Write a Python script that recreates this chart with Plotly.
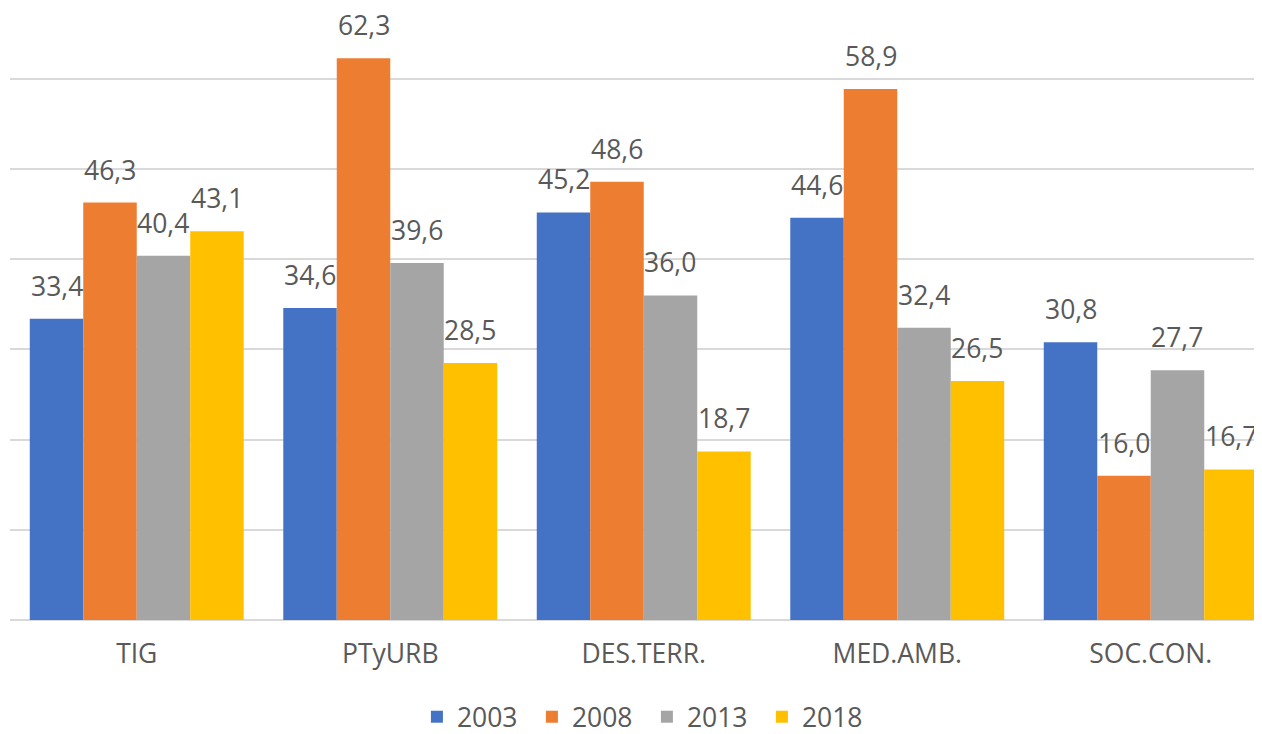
import plotly.graph_objects as go

categories = ["TIG", "PTyURB", "DES.TERR.", "MED.AMB.", "SOC.CON."]
series_names = ["2003", "2008", "2013", "2018"]
values_2003 = [33.4, 34.6, 45.2, 44.6, 30.8]
values_2008 = [46.3, 62.3, 48.6, 58.9, 16.0]
values_2013 = [40.4, 39.6, 36.0, 32.4, 27.7]
values_2018 = [43.1, 28.5, 18.7, 26.5, 16.7]
colors = ["#4472C4", "#ED7D31", "#A5A5A5", "#FFC000"]

all_values = [values_2003, values_2008, values_2013, values_2018]

# page body has an 8px margin, so the figure starts at (8, 8)
W, H = 1254, 726
ML, MR, MT, MB = 2, 0, 12, 114
plot_w = W - ML - MR
cat_px = 253.5
x_end = -0.5 + plot_w / cat_px
bargap = 0.156
bar_px = cat_px * (1 - bargap) / 4

FONT = "Open Sans"
TXT = "#595959"
FS = 26.5

fig = go.Figure()
for name, vals, col in zip(series_names, all_values, colors):
    fig.add_trace(go.Bar(name=name, x=categories, y=vals, marker_color=col,
                         marker_line_width=0))

for i, vals in enumerate(all_values):
    for c, v in zip(categories, vals):
        fig.add_annotation(x=c, y=v, text=f"{v:.1f}".replace(".", ","),
                           showarrow=False, yanchor="bottom",
                           xshift=(i - 1.5) * bar_px, yshift=13,
                           font=dict(family=FONT, size=FS, color=TXT))

fig.update_layout(
    width=W, height=H,
    margin=dict(l=ML, r=MR, t=MT, b=MB),
    paper_bgcolor="white", plot_bgcolor="white",
    barmode="group", bargap=bargap, bargroupgap=0,
    font=dict(family=FONT, size=FS, color=TXT),
    xaxis=dict(range=[-0.5, x_end], showgrid=False, ticks="",
               showline=False, zeroline=False, ticklabelstandoff=15,
               tickfont=dict(family=FONT, size=FS, color=TXT)),
    yaxis=dict(range=[0, 66.54], dtick=10, showgrid=True, gridcolor="#D9D9D9",
               gridwidth=1.5, showticklabels=False, zeroline=True,
               zerolinecolor="#D9D9D9", zerolinewidth=1.5),
    legend=dict(orientation="h", xref="container", yref="container",
                x=0.5095, xanchor="center", y=17 / 726, yanchor="middle",
                font=dict(family=FONT, size=FS, color=TXT),
                itemwidth=30, entrywidth=70, entrywidthmode="pixels",
                traceorder="normal"),
    showlegend=True,
)

fig.write_html("out.html")
